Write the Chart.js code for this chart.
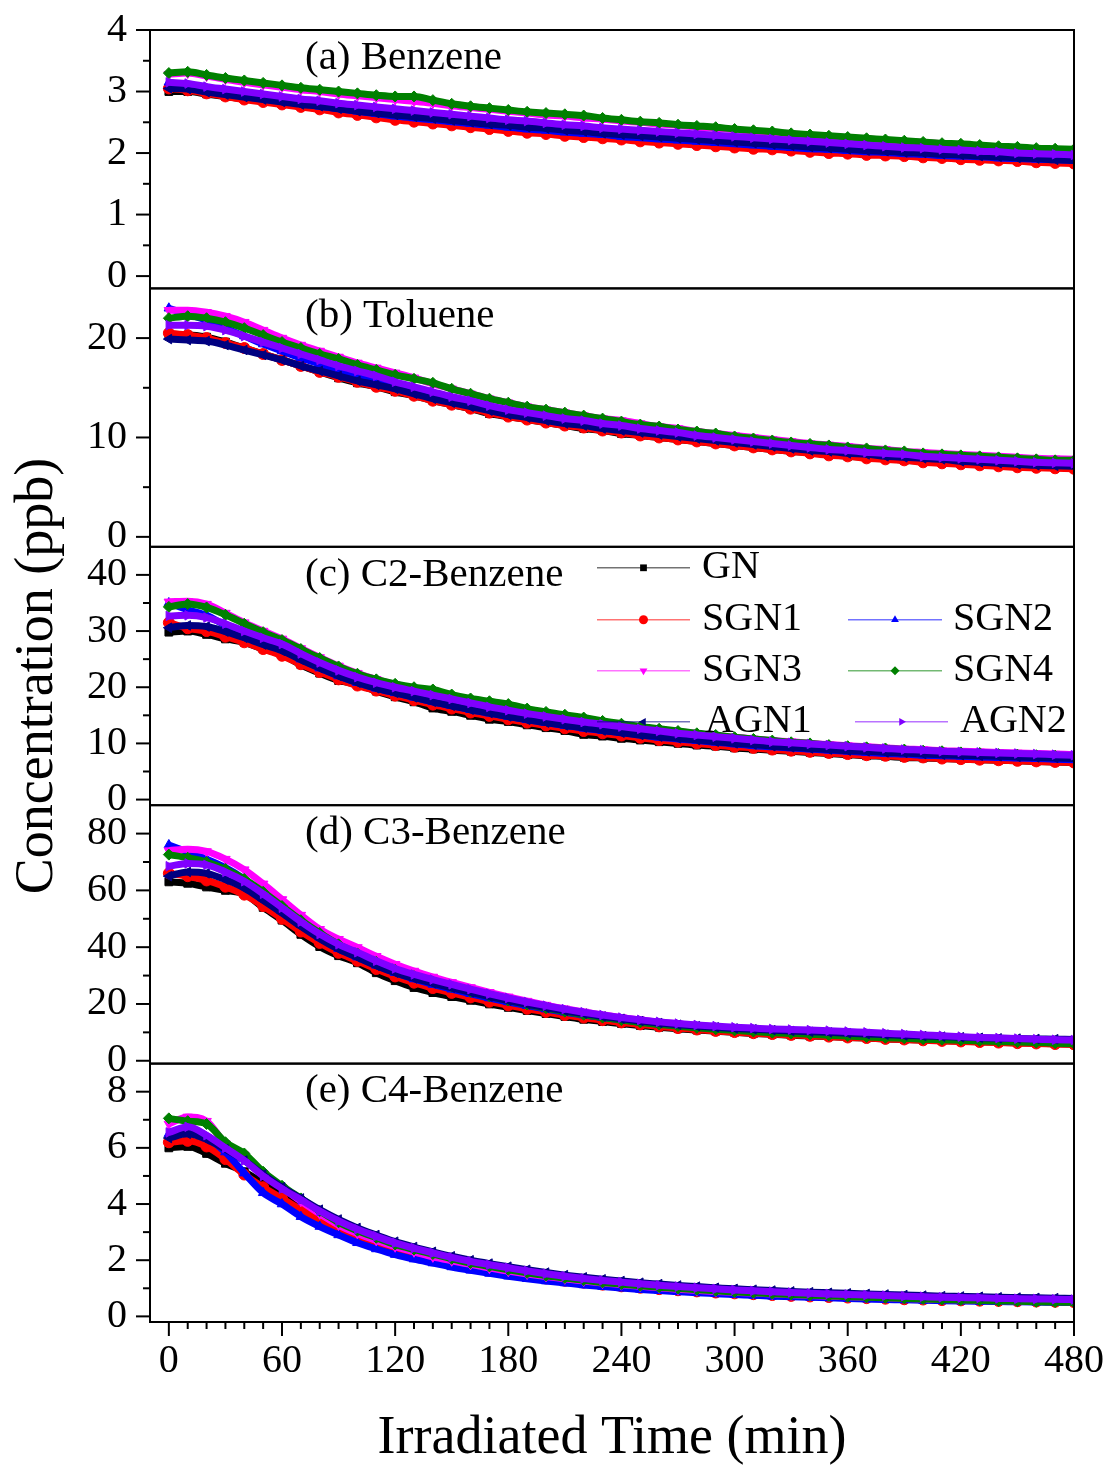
<!DOCTYPE html>
<html>
<head>
<meta charset="utf-8">
<script src="https://cdn.jsdelivr.net/npm/chart.js@4/dist/chart.umd.min.js"></script>
<style>
html,body{margin:0;padding:0;background:#fff;}
#wrap{width:1110px;height:1465px;position:relative;}
canvas{display:block;}
</style>
</head>
<body>
<div id="wrap"><canvas id="c" width="1110" height="1465"></canvas></div>
<script>
// ---------------- DATA ----------------
const TIME = [0,10,20,30,40,50,60,70,80,90,100,110,120,130,140,150,160,170,180,190,200,210,220,230,240,250,260,270,280,290,300,310,320,330,340,350,360,370,380,390,400,410,420,430,440,450,460,470,480];
const X_TICKS = [0,60,120,180,240,300,360,420,480];
const X_MINOR = [10,20,30,40,50,70,80,90,100,110,130,140,150,160,170,190,200,210,220,230,250,260,270,280,290,310,320,330,340,350,370,380,390,400,410,430,440,450,460,470];

const SERIES_NAMES  = ['GN','SGN1','SGN2','SGN3','SGN4','AGN1','AGN2'];
const SERIES_COLORS = ['#000000','#ff0000','#0000ff','#ff00ff','#008000','#000080','#8000ff'];
const SERIES_SHAPES = ['rect','circle','triangle','triangle','rectRot','triangle','triangle'];
const SERIES_ROT    = [0,0,0,180,0,270,90];

const PANEL_TITLES = ['(a) Benzene','(b) Toluene','(c) C2-Benzene','(d) C3-Benzene','(e) C4-Benzene'];
const Y_MIN = [-0.2,-1,-1,-1,-0.2];
const Y_MAX = [4,25,45,90,9];
const Y_MAJOR = [[0,1,2,3,4],[0,10,20],[0,10,20,30,40],[0,20,40,60,80],[0,2,4,6,8]];
const Y_MINOR = [[0.5,1.5,2.5,3.5],[5,15],[5,15,25,35],[10,30,50,70],[1,3,5,7]];

// (a) Benzene
const benzeneGN   = [3.00,3.00,2.96,2.92,2.88,2.84,2.80,2.76,2.72,2.68,2.64,2.60,2.56,2.53,2.50,2.47,2.44,2.41,2.38,2.35,2.33,2.30,2.28,2.26,2.23,2.21,2.19,2.17,2.15,2.13,2.11,2.09,2.07,2.05,2.04,2.02,2.00,1.99,1.97,1.96,1.94,1.93,1.92,1.90,1.89,1.88,1.87,1.86,1.85];
const benzeneSGN1 = [3.05,3.02,2.97,2.92,2.87,2.83,2.79,2.75,2.71,2.66,2.62,2.58,2.54,2.51,2.48,2.45,2.42,2.39,2.36,2.33,2.31,2.28,2.26,2.24,2.22,2.19,2.17,2.15,2.13,2.11,2.09,2.07,2.06,2.04,2.02,2.00,1.99,1.97,1.96,1.95,1.93,1.92,1.90,1.89,1.88,1.87,1.85,1.84,1.83];
const benzeneSGN2 = [3.15,3.08,3.02,2.97,2.92,2.88,2.84,2.80,2.76,2.72,2.68,2.64,2.60,2.57,2.54,2.51,2.48,2.45,2.42,2.39,2.37,2.34,2.32,2.30,2.27,2.25,2.23,2.21,2.19,2.17,2.15,2.13,2.11,2.09,2.07,2.06,2.04,2.02,2.01,1.99,1.98,1.96,1.95,1.94,1.92,1.91,1.90,1.89,1.88];
const benzeneSGN3 = [3.28,3.30,3.25,3.20,3.15,3.11,3.07,3.03,3.00,2.96,2.93,2.90,2.87,2.84,2.81,2.77,2.74,2.71,2.68,2.65,2.62,2.60,2.57,2.55,2.52,2.50,2.47,2.45,2.42,2.40,2.38,2.35,2.33,2.31,2.29,2.27,2.25,2.23,2.21,2.19,2.17,2.15,2.13,2.11,2.10,2.08,2.07,2.05,2.04];
const benzeneSGN4 = [3.30,3.32,3.27,3.22,3.18,3.14,3.10,3.06,3.03,3.00,2.97,2.94,2.92,2.92,2.86,2.80,2.76,2.73,2.70,2.67,2.65,2.63,2.61,2.57,2.54,2.51,2.49,2.46,2.44,2.42,2.39,2.37,2.35,2.32,2.30,2.28,2.26,2.24,2.22,2.20,2.18,2.16,2.15,2.13,2.11,2.10,2.08,2.07,2.06];
const benzeneAGN1 = [3.05,3.04,2.99,2.95,2.91,2.87,2.83,2.79,2.76,2.72,2.68,2.65,2.62,2.59,2.56,2.53,2.50,2.47,2.45,2.42,2.40,2.37,2.35,2.32,2.30,2.28,2.26,2.24,2.22,2.20,2.18,2.16,2.14,2.12,2.10,2.08,2.06,2.04,2.03,2.01,2.00,1.98,1.97,1.95,1.94,1.92,1.91,1.89,1.88];
const benzeneAGN2 = [3.15,3.13,3.08,3.04,3.00,2.96,2.92,2.88,2.85,2.81,2.78,2.75,2.72,2.69,2.66,2.63,2.60,2.57,2.54,2.52,2.49,2.46,2.44,2.41,2.39,2.37,2.35,2.33,2.31,2.29,2.27,2.25,2.23,2.21,2.19,2.17,2.15,2.13,2.11,2.09,2.08,2.06,2.05,2.03,2.02,2.00,1.99,1.98,1.97];

// (b) Toluene
const tolueneGN   = [20.2,20.3,20.1,19.6,19.0,18.4,17.8,17.2,16.6,16.0,15.5,15.1,14.6,14.2,13.7,13.3,12.9,12.4,12.1,11.8,11.5,11.2,10.9,10.7,10.4,10.2,10.0,9.8,9.6,9.4,9.2,9.0,8.8,8.6,8.5,8.3,8.1,8.0,7.9,7.7,7.6,7.5,7.4,7.3,7.2,7.1,7.0,7.0,6.9];
const tolueneSGN1 = [20.5,20.3,20.0,19.5,19.0,18.4,17.8,17.2,16.6,16.1,15.6,15.1,14.7,14.2,13.7,13.3,12.9,12.5,12.1,11.8,11.5,11.2,11.0,10.7,10.5,10.2,10.0,9.8,9.6,9.4,9.2,9.0,8.8,8.6,8.4,8.2,8.1,7.9,7.8,7.7,7.5,7.4,7.3,7.2,7.1,7.0,6.95,6.9,6.85];
const tolueneSGN2 = [23.0,22.4,21.8,21.0,20.2,19.4,18.7,18.0,17.4,16.8,16.3,15.8,15.3,14.8,14.3,13.9,13.4,13.0,12.6,12.3,12.0,11.7,11.4,11.2,10.9,10.7,10.5,10.2,10.0,9.8,9.6,9.4,9.2,9.0,8.9,8.7,8.5,8.4,8.3,8.1,8.0,7.9,7.8,7.7,7.6,7.5,7.45,7.35,7.3];
const tolueneSGN3 = [22.8,22.8,22.6,22.2,21.6,20.8,20.0,19.3,18.7,18.1,17.5,17.0,16.5,16.0,15.4,14.9,14.4,13.9,13.5,13.1,12.8,12.5,12.2,11.9,11.7,11.4,11.1,10.9,10.6,10.4,10.2,10.0,9.8,9.6,9.4,9.25,9.1,8.9,8.8,8.6,8.5,8.4,8.3,8.2,8.1,8.0,7.9,7.85,7.8];
const tolueneSGN4 = [22.0,22.2,22.0,21.6,21.0,20.3,19.6,19.0,18.4,17.9,17.3,16.8,16.3,15.9,15.5,14.9,14.4,13.9,13.5,13.1,12.8,12.5,12.2,11.9,11.6,11.3,11.1,10.8,10.6,10.4,10.1,9.9,9.7,9.5,9.35,9.2,9.0,8.9,8.7,8.6,8.4,8.3,8.2,8.1,8.0,7.9,7.8,7.7,7.7];
const tolueneAGN1 = [19.9,19.8,19.7,19.3,18.8,18.3,17.8,17.2,16.7,16.2,15.7,15.3,14.9,14.4,13.9,13.5,13.1,12.7,12.3,12.0,11.7,11.4,11.2,10.9,10.7,10.5,10.3,10.1,9.9,9.7,9.5,9.3,9.1,8.9,8.7,8.6,8.4,8.3,8.1,8.0,7.9,7.8,7.6,7.5,7.4,7.3,7.2,7.15,7.1];
const tolueneAGN2 = [21.3,21.3,21.2,20.8,20.2,19.6,19.0,18.4,17.8,17.2,16.7,16.2,15.6,15.1,14.6,14.1,13.7,13.2,12.8,12.5,12.2,11.9,11.7,11.4,11.2,10.9,10.7,10.5,10.2,10.0,9.8,9.6,9.4,9.2,9.0,8.8,8.7,8.5,8.4,8.3,8.1,8.0,7.9,7.8,7.7,7.6,7.5,7.45,7.4];

// (c) C2-Benzene
const c2GN   = [29.8,30.0,29.4,28.6,28.0,26.8,25.8,24.0,22.5,21.2,20.5,19.3,18.3,17.4,16.3,15.7,15.0,14.3,13.9,13.3,12.8,12.3,11.6,11.3,10.9,10.6,10.3,10.0,9.7,9.5,9.2,9.0,8.8,8.6,8.4,8.2,8.0,7.8,7.7,7.5,7.4,7.3,7.2,7.1,7.0,6.9,6.8,6.7,6.6];
const c2SGN1 = [31.5,30.5,30.0,29.0,28.0,26.8,25.6,24.1,22.7,21.4,20.3,19.4,18.5,17.7,16.9,16.2,15.5,14.9,14.3,13.7,13.2,12.7,12.2,11.8,11.4,11.0,10.6,10.3,10.0,9.7,9.4,9.2,8.9,8.7,8.5,8.3,8.1,7.9,7.8,7.6,7.5,7.3,7.2,7.1,7.0,6.9,6.8,6.7,6.6];
const c2SGN2 = [35.0,33.8,32.8,31.0,29.5,28.0,26.8,25.0,23.4,22.0,20.8,19.8,19.0,18.2,17.4,16.7,16.0,15.4,14.8,14.2,13.7,13.2,12.7,12.3,11.9,11.5,11.1,10.8,10.5,10.2,9.9,9.6,9.4,9.2,9.0,8.8,8.6,8.4,8.2,8.1,7.9,7.8,7.7,7.6,7.5,7.4,7.3,7.2,7.1];
const c2SGN3 = [35.2,35.3,34.8,33.2,31.5,30.0,28.6,26.9,25.3,23.8,22.5,21.4,20.5,19.8,19.1,18.4,17.7,17.0,16.4,15.8,15.2,14.7,14.2,13.8,13.3,12.9,12.5,12.1,11.8,11.4,11.1,10.8,10.5,10.3,10.0,9.8,9.6,9.4,9.2,9.0,8.9,8.7,8.6,8.5,8.4,8.3,8.2,8.1,8.0];
const c2SGN4 = [34.3,34.8,34.2,32.9,31.3,29.8,28.4,26.8,25.2,23.7,22.4,21.4,20.6,20.0,19.6,18.7,18.0,17.5,17.0,16.2,15.6,15.1,14.6,14.0,13.5,13.0,12.6,12.2,11.8,11.5,11.1,10.8,10.5,10.2,10.0,9.7,9.5,9.3,9.1,8.9,8.7,8.6,8.4,8.3,8.1,8.0,7.9,7.8,7.7];
const c2AGN1 = [30.6,31.0,30.8,29.9,28.8,27.6,26.5,24.9,23.4,22.0,20.8,19.8,19.0,18.2,17.4,16.7,16.0,15.4,14.8,14.2,13.7,13.2,12.8,12.3,11.9,11.5,11.2,10.9,10.6,10.3,10.0,9.8,9.5,9.3,9.1,8.9,8.7,8.6,8.4,8.3,8.1,8.0,7.9,7.8,7.7,7.6,7.5,7.4,7.3];
const c2AGN2 = [32.7,32.8,32.4,31.3,30.0,28.8,27.7,26.0,24.4,23.0,21.8,20.8,20.0,19.3,18.6,17.9,17.2,16.5,15.9,15.3,14.8,14.3,13.8,13.4,13.0,12.6,12.2,11.8,11.5,11.2,10.9,10.6,10.3,10.1,9.9,9.7,9.5,9.3,9.1,8.9,8.8,8.6,8.5,8.4,8.3,8.2,8.1,8.0,7.9];

// (d) C3-Benzene
const c3GN   = [63.0,62.5,61.2,60.0,58.8,54.0,49.5,44.5,40.2,37.0,34.5,31.0,28.2,25.8,24.0,22.6,21.3,20.0,18.8,17.7,16.6,15.6,14.6,13.8,13.1,12.4,11.8,11.3,10.8,10.4,10.0,9.6,9.3,9.0,8.7,8.5,8.2,8.0,7.7,7.5,7.3,7.1,6.9,6.7,6.5,6.3,6.2,6.0,5.9];
const c3SGN1 = [66.0,65.0,63.5,61.3,58.5,54.5,50.0,45.5,41.5,38.0,35.2,32.3,29.7,27.5,25.6,23.9,22.3,20.8,19.5,18.3,17.2,16.1,15.2,14.3,13.5,12.8,12.1,11.5,11.0,10.5,10.1,9.7,9.4,9.1,8.8,8.5,8.2,8.0,7.7,7.5,7.2,7.0,6.8,6.6,6.4,6.2,6.1,5.9,5.8];
const c3SGN2 = [76.0,73.5,71.0,68.0,64.0,59.0,53.5,48.0,43.5,39.5,36.5,33.6,31.0,28.8,26.9,25.2,23.6,22.1,20.7,19.4,18.2,17.1,16.1,15.2,14.4,13.6,12.9,12.3,11.8,11.3,10.9,10.5,10.2,9.9,9.6,9.3,9.0,8.7,8.5,8.2,8.0,7.8,7.6,7.4,7.2,7.0,6.8,6.7,6.5];
const c3SGN3 = [74.0,74.5,73.7,71.0,67.3,62.3,56.8,51.3,46.3,42.8,39.9,36.8,34.0,31.6,29.5,27.6,25.8,24.1,22.5,21.0,19.6,18.3,17.2,16.1,15.2,14.4,13.6,13.0,12.4,11.9,11.5,11.1,10.8,10.5,10.2,9.9,9.6,9.3,9.0,8.8,8.5,8.2,8.0,7.8,7.6,7.4,7.2,7.0,6.9];
const c3SGN4 = [72.6,71.5,70.0,67.5,64.0,59.5,54.5,49.5,45.0,41.0,37.8,34.8,32.0,29.8,27.9,26.1,24.3,22.7,21.2,19.8,18.5,17.3,16.2,15.2,14.3,13.5,12.8,12.2,11.6,11.1,10.7,10.3,9.9,9.6,9.3,9.0,8.7,8.4,8.1,7.9,7.6,7.4,7.2,7.0,6.8,6.6,6.4,6.2,6.0];
const c3AGN1 = [65.0,66.5,66.0,63.8,60.8,56.5,52.0,47.3,43.0,39.3,36.4,33.5,31.0,29.0,27.3,25.7,24.1,22.6,21.2,19.9,18.7,17.6,16.6,15.6,14.8,14.0,13.3,12.7,12.2,11.8,11.4,11.1,10.8,10.5,10.2,10.0,9.7,9.4,9.2,8.9,8.7,8.5,8.3,8.1,7.9,7.8,7.7,7.6,7.5];
const c3AGN2 = [68.5,69.5,69.0,66.5,63.2,58.8,53.9,49.0,44.6,41.0,38.2,35.2,32.5,30.4,28.6,26.9,25.2,23.6,22.1,20.7,19.4,18.2,17.1,16.1,15.2,14.4,13.7,13.1,12.6,12.2,11.8,11.5,11.2,11.0,10.8,10.6,10.3,10.0,9.7,9.4,9.1,8.8,8.5,8.2,8.0,7.8,7.6,7.4,7.3];

// (e) C4-Benzene
const c4GN   = [6.0,6.05,5.8,5.45,5.15,4.75,4.35,3.95,3.55,3.2,2.9,2.65,2.45,2.28,2.12,1.98,1.85,1.73,1.62,1.52,1.43,1.35,1.28,1.21,1.15,1.1,1.05,1.0,0.96,0.92,0.89,0.86,0.83,0.8,0.78,0.76,0.74,0.72,0.7,0.68,0.66,0.65,0.64,0.63,0.62,0.61,0.6,0.59,0.58];
const c4SGN1 = [6.2,6.25,6.05,5.6,5.05,4.6,4.2,3.8,3.42,3.1,2.82,2.58,2.38,2.2,2.04,1.9,1.77,1.65,1.54,1.44,1.35,1.27,1.2,1.13,1.07,1.02,0.97,0.93,0.89,0.85,0.82,0.79,0.76,0.73,0.71,0.69,0.67,0.65,0.63,0.61,0.6,0.58,0.57,0.56,0.55,0.54,0.53,0.52,0.51];
const c4SGN2 = [6.5,6.6,6.35,5.85,5.1,4.4,4.0,3.55,3.2,2.9,2.62,2.4,2.2,2.04,1.9,1.76,1.64,1.53,1.43,1.34,1.26,1.19,1.12,1.06,1.01,0.96,0.92,0.88,0.84,0.81,0.78,0.75,0.72,0.7,0.68,0.66,0.64,0.62,0.6,0.59,0.57,0.56,0.55,0.54,0.53,0.52,0.51,0.5,0.49];
const c4SGN3 = [6.85,7.1,6.95,6.15,5.75,5.1,4.6,4.1,3.65,3.25,2.95,2.7,2.48,2.3,2.12,1.98,1.85,1.72,1.61,1.51,1.42,1.34,1.26,1.19,1.13,1.07,1.02,0.97,0.93,0.89,0.86,0.83,0.8,0.77,0.74,0.72,0.7,0.68,0.66,0.64,0.62,0.6,0.59,0.57,0.56,0.55,0.54,0.53,0.52];
const c4SGN4 = [7.05,6.95,6.85,6.2,5.8,5.15,4.65,4.2,3.75,3.35,3.05,2.8,2.56,2.38,2.22,2.05,1.9,1.78,1.66,1.55,1.45,1.37,1.29,1.21,1.15,1.09,1.04,0.99,0.95,0.91,0.87,0.84,0.81,0.78,0.75,0.73,0.7,0.68,0.66,0.64,0.62,0.6,0.58,0.57,0.55,0.54,0.52,0.51,0.5];
const c4AGN1 = [6.35,6.5,6.3,5.95,5.55,5.05,4.6,4.2,3.8,3.45,3.15,2.9,2.66,2.47,2.3,2.14,2.0,1.88,1.77,1.66,1.56,1.47,1.39,1.32,1.26,1.2,1.15,1.1,1.06,1.02,0.98,0.95,0.92,0.89,0.86,0.84,0.82,0.8,0.78,0.76,0.74,0.72,0.71,0.7,0.68,0.67,0.66,0.65,0.64];
const c4AGN2 = [6.55,6.75,6.45,6.0,5.55,5.0,4.55,4.15,3.75,3.4,3.1,2.85,2.62,2.43,2.26,2.1,1.96,1.84,1.73,1.62,1.52,1.43,1.35,1.28,1.22,1.16,1.11,1.06,1.02,0.98,0.94,0.91,0.88,0.85,0.82,0.8,0.78,0.76,0.74,0.72,0.7,0.68,0.67,0.66,0.64,0.63,0.62,0.61,0.6];

// ---------------- BUILD ----------------
const PANEL_IDS = ['yA','yB','yC','yD','yE'];
const PANEL_SERIES = [
  [benzeneGN,benzeneSGN1,benzeneSGN2,benzeneSGN3,benzeneSGN4,benzeneAGN1,benzeneAGN2],
  [tolueneGN,tolueneSGN1,tolueneSGN2,tolueneSGN3,tolueneSGN4,tolueneAGN1,tolueneAGN2],
  [c2GN,c2SGN1,c2SGN2,c2SGN3,c2SGN4,c2AGN1,c2AGN2],
  [c3GN,c3SGN1,c3SGN2,c3SGN3,c3SGN4,c3AGN1,c3AGN2],
  [c4GN,c4SGN1,c4SGN2,c4SGN3,c4SGN4,c4AGN1,c4AGN2]
];

const FONT = '"Liberation Serif", "Times New Roman", Times, serif';
Chart.defaults.font.family = FONT;
Chart.defaults.color = '#000';

const datasets = [];
PANEL_SERIES.forEach((arrs, k) => {
  arrs.forEach((vals, s) => {
    datasets.push({
      label: SERIES_NAMES[s],
      data: TIME.map((t, i) => ({x: t, y: vals[i]})),
      xAxisID: 'x',
      yAxisID: PANEL_IDS[k],
      borderColor: SERIES_COLORS[s],
      backgroundColor: SERIES_COLORS[s],
      pointBackgroundColor: SERIES_COLORS[s],
      pointBorderColor: SERIES_COLORS[s],
      borderWidth: 7,
      pointStyle: SERIES_SHAPES[s],
      pointRotation: SERIES_ROT[s],
      pointRadius: 5.5,
      pointBorderWidth: 1,
      cubicInterpolationMode: 'monotone',
      fill: false,
      order: 7 - s
    });
  });
});

const scales = {
  x: {
    type: 'linear', position: 'bottom', min: -10, max: 480,
    afterBuildTicks: s => { s.ticks = X_TICKS.map(v => ({value: v})); },
    afterFit: s => { s.height = 143; },
    grid: {display: false, drawTicks: true, tickLength: 15},
    border: {display: false},
    ticks: {padding: 0, color: '#000', font: {family: FONT, size: 40}, autoSkip: false, maxRotation: 0, minRotation: 0, callback: v => String(v)},
    title: {display: true, text: 'Irradiated Time (min)', color: '#000', font: {family: FONT, size: 54}, padding: {top: 0, bottom: -6}}
  }
};
PANEL_IDS.forEach((id, k) => {
  scales[id] = {
    type: 'linear', position: 'left', stack: 'panels', stackWeight: 1, weight: 5 - k,
    min: Y_MIN[k], max: Y_MAX[k],
    afterBuildTicks: s => { s.ticks = Y_MAJOR[k].map(v => ({value: v})); },
    afterFit: s => { s.width = 150; },
    grid: {display: false, drawTicks: true, tickLength: 23},
    border: {display: false},
    ticks: {padding: 0, color: '#000', font: {family: FONT, size: 40}, autoSkip: false, callback: v => String(v)},
    title: k === 2
      ? {display: true, text: 'Concentration (ppb)', color: '#000', font: {family: FONT, size: 54}, padding: {top: 5, bottom: 0}}
      : {display: false}
  };
});

function drawMarker(ctx, s, x, y, r) {
  ctx.save();
  ctx.translate(x, y);
  ctx.rotate(SERIES_ROT[s] * Math.PI / 180);
  ctx.fillStyle = SERIES_COLORS[s];
  ctx.beginPath();
  const sh = SERIES_SHAPES[s];
  if (sh === 'rect') ctx.rect(-r * 0.75, -r * 0.75, r * 1.5, r * 1.5);
  else if (sh === 'circle') ctx.arc(0, 0, r, 0, Math.PI * 2);
  else if (sh === 'rectRot') { ctx.moveTo(0, -r); ctx.lineTo(r, 0); ctx.lineTo(0, r); ctx.lineTo(-r, 0); ctx.closePath(); }
  else { ctx.moveTo(0, -r); ctx.lineTo(r * 0.87, r * 0.5); ctx.lineTo(-r * 0.87, r * 0.5); ctx.closePath(); }
  ctx.fill();
  ctx.restore();
}

// legend layout: [series index, line x0, line x1, text x, row]
const LEGEND_ITEMS = [
  [0, 597, 690, 702, 0],
  [1, 597, 690, 702, 1], [2, 848, 942, 953, 1],
  [3, 597, 690, 702, 2], [4, 848, 942, 953, 2],
  [5, 597, 690, 705, 3], [6, 855, 948, 960, 3]
];
const LEGEND_ROW_Y = [21, 73, 124, 175];

const decorPlugin = {
  id: 'decor',
  afterDatasetsDraw(chart) {
    const ctx = chart.ctx;
    const xs = chart.scales.x;
    ctx.save();
    ctx.strokeStyle = '#000';
    ctx.lineWidth = 2;
    const line = (x0, y0, x1, y1) => { ctx.beginPath(); ctx.moveTo(x0, y0); ctx.lineTo(x1, y1); ctx.stroke(); };
    PANEL_IDS.forEach((id, k) => {
      const ys = chart.scales[id];
      ctx.strokeRect(xs.left, ys.top, xs.right - xs.left, ys.bottom - ys.top);
      Y_MAJOR[k].forEach(v => { const y = ys.getPixelForValue(v); line(xs.left - 14, y, xs.left, y); });
      Y_MINOR[k].forEach(v => { const y = ys.getPixelForValue(v); line(xs.left - 7, y, xs.left, y); });
    });
    const yb = chart.scales.yE.bottom;
    X_TICKS.forEach(v => { const x = xs.getPixelForValue(v); line(x, yb, x, yb + 14); });
    X_MINOR.forEach(v => { const x = xs.getPixelForValue(v); line(x, yb, x, yb + 7); });

    // panel titles
    ctx.fillStyle = '#000';
    ctx.font = '41px ' + FONT;
    ctx.textAlign = 'left';
    ctx.textBaseline = 'middle';
    PANEL_IDS.forEach((id, k) => {
      ctx.fillText(PANEL_TITLES[k], 305, chart.scales[id].top + 28);
    });

    // legend
    const top = chart.scales.yC.top;
    ctx.font = '40px ' + FONT;
    LEGEND_ITEMS.forEach(([s, x0, x1, tx, row]) => {
      const y = top + LEGEND_ROW_Y[row];
      ctx.save();
      ctx.globalAlpha = 0.55;
      ctx.strokeStyle = SERIES_COLORS[s];
      ctx.lineWidth = 1.5;
      line(x0, y, x1, y);
      ctx.restore();
      drawMarker(ctx, s, (x0 + x1) / 2, y, 4.5);
      ctx.fillStyle = '#000';
      ctx.fillText(SERIES_NAMES[s], tx, y);
    });
    ctx.restore();
  }
};

new Chart(document.getElementById('c'), {
  type: 'line',
  data: {datasets},
  options: {
    responsive: false,
    animation: false,
    devicePixelRatio: 1,
    layout: {autoPadding: false, padding: {top: 30, right: 36, left: 0, bottom: 0}},
    plugins: {legend: {display: false}, tooltip: {enabled: false}},
    scales
  },
  plugins: [decorPlugin]
});
</script>
</body>
</html>
